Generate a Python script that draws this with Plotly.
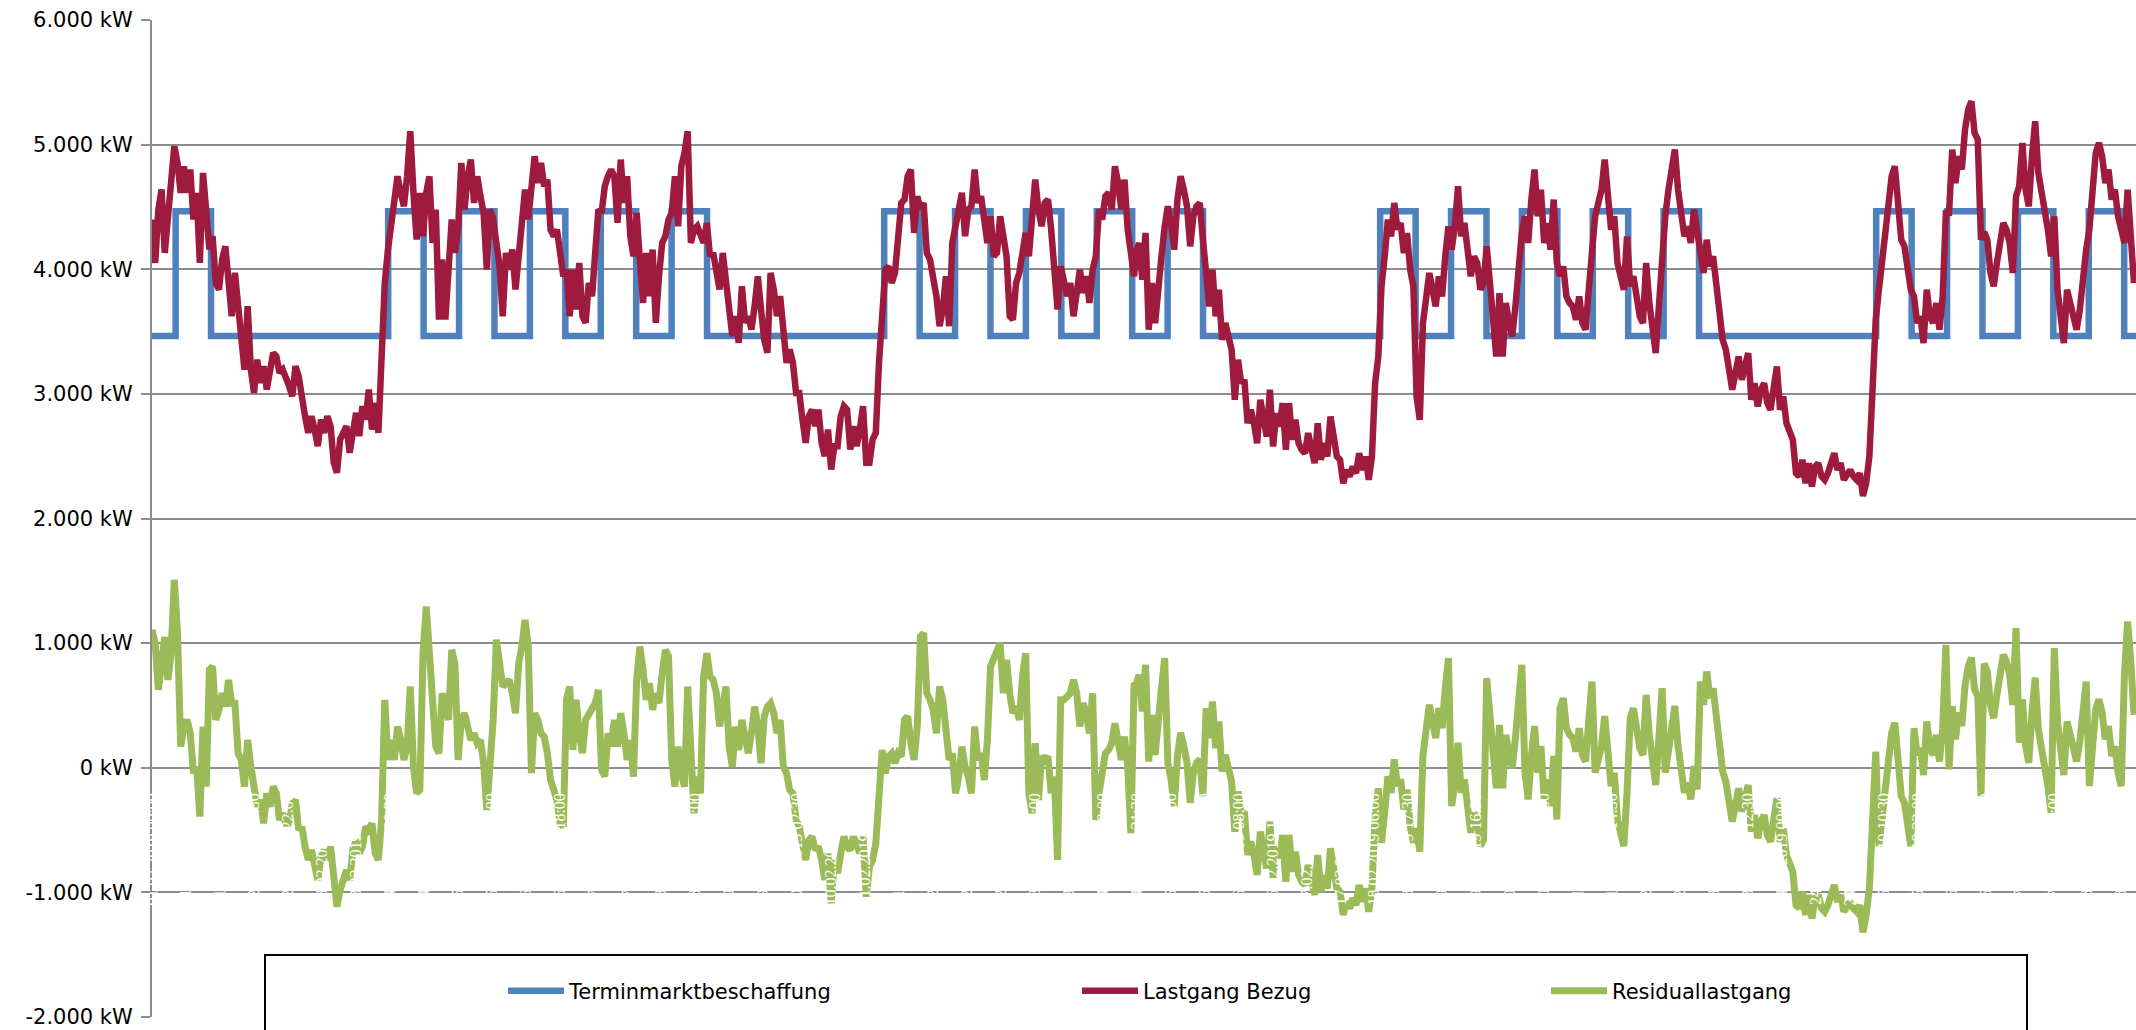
import numpy as np
import pandas as pd
import plotly.graph_objects as go

# ---------------- data ----------------
# Values were read along a regular reading grid of 64.8 minutes,
# part A from 01.02.2019 00:00, part B from 14.02.2019 21:17.
reading_step_min = 64.8
part_a_start = "2019-02-01 00:00"
part_b_start = "2019-02-14 21:17"

lastgang_kw_a = [
    4400, 4051, 4479, 4640, 4131, 4400, 4613, 4987, 4853, 4613,
    4826, 4613, 4800, 4399, 4613, 4051, 4773, 4399, 4158, 4265,
    3890, 3837, 4078, 4185, 3944, 3623, 3971, 3677, 3463, 3195,
    3703, 3195, 3008, 3275, 3088, 3222, 3035, 3169, 3329, 3302,
    3169, 3195, 3142, 3062, 2981, 3222, 3142, 2955, 2821, 2687,
    2821, 2714, 2580, 2794, 2687, 2821, 2741, 2447, 2367, 2634,
    2687, 2741, 2527, 2714, 2848, 2661, 2901, 2794, 3035, 2714,
    2928, 2687, 3249, 3890, 4158, 4345, 4532, 4746, 4613, 4506,
    4746, 5107, 4613, 4238, 4613, 4265, 4613, 4746, 4211, 4479,
    3596, 4078, 3596, 3944, 4399, 4131, 4318, 4853, 4479, 4746,
    4880, 4532, 4746, 4586, 4452, 3997, 4479, 4399, 4211, 4024,
    3623, 4131, 3997, 4158, 3837, 4131, 4318, 4639, 4399, 4613,
    4907, 4693, 4853, 4666, 4719, 4318, 4265, 4318, 4158, 3944,
    3997, 3623, 3997, 3677, 4051, 3623, 3570, 3890, 3784, 4131,
    4479, 4452, 4666, 4746, 4800, 4746, 4372, 4880, 4532, 4746,
    4265, 4104, 4452, 4078, 3730, 4131, 3784, 4158, 3570, 3944,
    4211, 4265, 4399, 4452, 4746, 4345, 4826, 4933, 5107, 4211,
    4318, 4345, 4265, 4211, 4372, 4104, 4131, 3944, 3837, 4131,
    3890, 3677, 3463, 3623, 3409, 3864, 3570, 3623, 3516, 3703,
    3944, 3677, 3436, 3329, 3971, 3837, 3623, 3784, 3436, 3249,
    3356, 3249, 3008, 3008, 2794, 2607, 2821, 2874, 2741, 2874,
    2607, 2500, 2714, 2393, 2580, 2580, 2821, 2901, 2874, 2553,
    2741, 2580, 2714, 2901, 2447, 2447, 2634, 2687, 3249, 3730,
    3997, 4024, 3890, 3971, 4292, 4532, 4559, 4746, 4800, 4292,
    4586, 4479, 4532, 4131, 4078, 3944, 3784, 3543, 3677, 3944,
    3543, 4211, 4318, 4479, 4613, 4265, 4479, 4506, 4800, 4532,
    4586, 4345, 4211, 4425, 4104, 4131, 4425, 4265, 4104, 3623,
    3596, 3890, 3971, 4131, 4292, 4104, 4479, 4719, 4479, 4345,
    4532, 4559, 4318, 3997, 3677, 4024, 3917, 3784, 3890, 3623,
    3810, 3997, 3810, 3944, 3730, 3997, 4104, 4479, 4399, 4586,
    4613, 4479, 4826, 4693, 4479, 4719, 4318, 4158, 3944,
]

lastgang_kw_b = [
    4130, 4211, 3916, 4291, 3515, 3889, 3568, 3782, 4104, 4344,
    4505, 4371, 4157, 4559, 4746, 4639, 4505, 4184, 4425, 4505,
    4532, 4237, 3943, 3702, 3996, 3622, 3836, 3434, 3568, 3461,
    3354, 2952, 3274, 3086, 3113, 2765, 2872, 2765, 2604, 2952,
    2765, 2658, 3033, 2578, 2845, 2738, 2926, 2551, 2926, 2631,
    2792, 2604, 2551, 2524, 2685, 2551, 2444, 2765, 2471, 2604,
    2497, 2818, 2658, 2497, 2471, 2283, 2390, 2337, 2417, 2363,
    2524, 2390, 2497, 2310, 2497, 3086, 3300, 3863, 4104, 4398,
    4264, 4532, 4318, 4371, 4130, 4291, 3996, 3863, 2979, 2792,
    3568, 3729, 3970, 3836, 3702, 3943, 3782, 4104, 4344, 4157,
    4344, 4666, 4264, 4371, 4184, 3943, 4104, 4050, 3836, 3889,
    4184, 3943, 3595, 3300, 3809, 3300, 3729, 3568, 3461, 3702,
    4050, 4291, 4425, 4211, 4559, 4800, 4425, 4639, 4211, 4371,
    4157, 4559, 4050, 3943, 4023, 3782, 3729, 3702, 3595, 3782,
    3568, 3515, 3836, 4157, 4425, 4532, 4639, 4880, 4639, 4318,
    4425, 4050, 3943, 3836, 4264, 3863, 3943, 3782, 3622, 3568,
    4050, 3729, 3568, 3327, 3702, 4104, 4425, 4639, 4800, 4960,
    4639, 4478, 4264, 4344, 4211, 4478, 4291, 4157, 3970, 4237,
    4023, 4104, 3836, 3568, 3434, 3354, 3220, 3033, 3167, 3300,
    3113, 3247, 3327, 2952, 3086, 2899, 3033, 3086, 2926, 2872,
    3033, 3220, 2872, 2979, 2765, 2712, 2631, 2363, 2337, 2471,
    2283, 2444, 2256, 2417, 2444, 2337, 2310, 2363, 2444, 2524,
    2390, 2444, 2310, 2363, 2390, 2337, 2310, 2363, 2180, 2283,
    2497, 3033, 3595, 3836, 4050, 4264, 4478, 4746, 4826, 4559,
    4237, 4184, 3970, 3836, 3782, 3568, 3622, 3407, 3836, 3622,
    3568, 3729, 3515, 3782, 4450, 4452, 4960, 4692, 4907, 4800,
    5121, 5281, 5348, 5094, 5040, 4237, 4300, 4237, 3970, 3863,
    4050, 4264, 4371, 4318, 4211, 3970, 4585, 4666, 5014, 4639,
    4505, 4907, 5188, 4773, 4639, 4478, 4318, 4104, 4425, 3836,
    3622, 3407, 3836, 3729, 3568, 3515, 3675, 3996, 4157, 4318,
    4639, 4933, 5014, 4907, 4692, 4800, 4559, 4639, 4425, 4318,
    4211, 4639, 4318, 3889,
]

residual_kw_a = [
    1107, 1000, 625, 866, 1050, 705, 919, 1508, 1080, 170,
    331, 384, 277, -44, 9, -392, 331, -151, 786, 812,
    384, 464, 598, 491, 705, 518, 518, 116, 63, -151,
    223, 9, -205, -312, -258, -446, -205, -312, -151, -205,
    -419, -365, -446, -446, -285, -258, -499, -473, -633, -740,
    -660, -821, -901, -714, -660, -740, -633, -874, -1115, -981,
    -874, -821, -901, -660, -580, -687, -633, -473, -499, -446,
    -687, -740, -419, 545, 63, 223, 63, 331, 223, 63,
    170, 652, 9, -205, -178, 919, 1294, 919, 598, 170,
    116, 598, 491, 384, 946, 839, 63, 384, 438, 331,
    223, 277, 197, 223, 36, -339, 9, 384, 1027, 812,
    652, 679, 705, 598, 438, 839, 973, 1187, 973, -44,
    438, 384, 277, 250, 116, -98, -205, -258, -446, -473,
    545, 652, 143, 545, 277, 116, 384, 438, 491, 518,
    625, -18, -71, 277, 170, 384, 170, 438, 277, 63,
    223, -71, 705, 973, 786, 545, 679, 464, 598, 518,
    759, 946, 893, 63, -151, 170, -44, -151, 652, 9,
    -365, -71, -205, 732, 919, 732, 705, 598, 331, 491,
    652, 170, 9, 331, 143, 384, 223, 116, 277, 491,
    331, 36, 411, 491, 518, 438, 277, 384, 9, -44,
    -178, -205, -419, -473, -606, -740, -580, -553, -660, -633,
    -740, -901, -687, -1088, -740, -847, -687, -553, -633, -660,
    -553, -633, -687, -553, -1035, -794, -740, -606, -205, 143,
    -44, 90, 116, 36, 116, 90, 384, 411, 197, 63,
    331, 1053, 1080, 598, 545, 464, 277, 652, 545, 277,
    63, 116, -205, -71, 170, 9, -71, -205, 331, 63,
    116, -98, 223, 812, 866, 919, 1000, 598, 866, 598,
    438, 491, 384, 732, 919, -205, -365, 197, -258, 90,
    63, 90, -205, -71, -740, 545, 545, 571, 598, 705,
    598, 331, 518, 438, 277, 598, -419, -205, -71, 116,
    143, 197, 357, 170, 63, 250, 9, -526, 679,
]

residual_kw_b = [
    665, 746, 451, 826, 50, 424, 103, 317, 639, 879,
    40, -94, -308, 94, 281, 174, 40, -281, -40, 40,
    67, -228, 478, 237, 531, 157, 371, -31, 103, -4,
    -111, -513, -191, -379, -352, -700, -593, -700, -861, -513,
    -700, -807, -432, -887, -620, -727, -539, -914, -539, -834,
    -673, -861, -914, -941, -780, -914, -1021, -700, -994, -861,
    -968, -647, -807, -968, -994, -1182, -1075, -1128, -1048, -1102,
    -941, -1075, -968, -1155, -968, -379, -165, -602, -361, -67,
    -201, 67, -147, -94, -335, -174, -469, -602, -486, -673,
    103, 264, 505, 371, 237, 478, 317, 639, 879, -308,
    -121, 201, -201, -94, -281, -522, -361, -415, -629, -576,
    719, 478, 130, -165, 344, -165, 264, 103, -4, 237,
    585, 826, -40, -254, 94, 335, -40, 174, -254, -94,
    -308, 94, -415, 478, 558, 317, 264, 237, 130, 317,
    103, 50, 371, 692, -40, 67, 174, 415, 174, -147,
    -40, -415, -522, -629, -201, 398, 478, 317, 157, 103,
    585, 264, 103, -138, 237, 639, -40, 174, 335, 495,
    174, 13, -201, -121, -254, 13, -174, 692, 505, 772,
    558, 639, 371, 103, -31, -111, -245, -432, -298, -165,
    -352, -218, -138, -513, -379, -566, -432, -379, -539, -593,
    -432, -245, -593, -486, -700, -753, -834, -1102, -1128, -994,
    -1182, -1021, -1209, -1048, -1021, -1128, -1155, -1102, -1021, -941,
    -1075, -1021, -1155, -1102, -1075, -1128, -1155, -1102, -1320, -1182,
    -968, -432, 130, -629, -415, -201, 13, 281, 361, 94,
    -228, -281, -495, -629, 317, 103, 157, -58, 371, 157,
    103, 264, 50, 317, 985, -13, 495, 227, 442, 335,
    656, 816, 883, 629, 575, -228, 835, 772, 505, 398,
    585, 799, 906, 853, 746, 505, 1120, 201, 549, 174,
    40, 442, 723, 308, 174, 13, -147, -361, 960, 371,
    157, -58, 371, 264, 103, 50, 210, 531, 692, -147,
    174, 468, 549, 442, 227, 335, 94, 174, -40, -147,
    746, 1174, 853, 424,
]

# Terminmarktbeschaffung: step profile (change points)
termin_times = [
    "2019-02-01 00:00", "2019-02-01 08:00", "2019-02-01 20:00",
    "2019-02-04 08:00", "2019-02-04 20:00", "2019-02-05 08:00", "2019-02-05 20:00",
    "2019-02-06 08:00", "2019-02-06 20:00", "2019-02-07 08:00", "2019-02-07 20:00",
    "2019-02-08 08:00", "2019-02-08 20:00",
    "2019-02-11 08:00", "2019-02-11 20:00", "2019-02-12 08:00", "2019-02-12 20:00",
    "2019-02-13 08:00", "2019-02-13 20:00", "2019-02-14 08:00", "2019-02-14 20:00",
    "2019-02-15 08:00", "2019-02-15 20:00",
    "2019-02-18 08:00", "2019-02-18 20:00", "2019-02-19 08:00", "2019-02-19 20:00",
    "2019-02-20 08:00", "2019-02-20 20:00", "2019-02-21 08:00", "2019-02-21 20:00",
    "2019-02-22 08:00", "2019-02-22 20:00",
    "2019-02-25 08:00", "2019-02-25 20:00", "2019-02-26 08:00", "2019-02-26 20:00",
    "2019-02-27 08:00", "2019-02-27 20:00", "2019-02-28 08:00", "2019-02-28 20:00",
    "2019-03-01 00:00",
]
termin_kw = [3465] + [4465, 3465] * 20 + [3465]

series_names = ["Terminmarktbeschaffung", "Lastgang Bezug", "Residuallastgang"]
series_colors = ["#4F81BD", "#9E1B3E", "#9BBB59"]

y_tickvals = [-2000, -1000, 0, 1000, 2000, 3000, 4000, 5000, 6000]
y_ticktext = ["-2.000 kW", "-1.000 kW", "0 kW", "1.000 kW", "2.000 kW",
              "3.000 kW", "4.000 kW", "5.000 kW", "6.000 kW"]

t_start, t_end = "2019-02-01 00:00", "2019-03-01 00:00"
label_times = pd.date_range(t_start, t_end, freq="690min")
label_text = [t.strftime("%d.%m.%Y %H:%M") for t in label_times]


def reading_times(start, n):
    return pd.Timestamp(start) + pd.to_timedelta(np.arange(n) * reading_step_min, unit="min")


times = reading_times(part_a_start, len(lastgang_kw_a)).append(
    reading_times(part_b_start, len(lastgang_kw_b)))
lastgang_kw = lastgang_kw_a + lastgang_kw_b
residual_kw = residual_kw_a + residual_kw_b

# ---------------- figure ----------------
fig = go.Figure()
fig.add_trace(go.Scatter(x=termin_times, y=termin_kw, mode="lines", line_shape="hv",
                         name=series_names[0], line=dict(color=series_colors[0], width=6.5),
                         legend="legend"))
fig.add_trace(go.Scatter(x=times, y=lastgang_kw, mode="lines",
                         name=series_names[1], line=dict(color=series_colors[1], width=6.5),
                         legend="legend2"))
fig.add_trace(go.Scatter(x=times, y=residual_kw, mode="lines",
                         name=series_names[2], line=dict(color=series_colors[2], width=7),
                         legend="legend3"))

W, H = 2136, 1030
L, R, T, B = 152, 0, 20, 13
pw, ph = W - L - R, H - T - B


def px_x(px):
    return (px - L) / pw


def px_y(py):
    return (H - B - py) / ph


leg_common = dict(orientation="h", xanchor="left", yanchor="middle",
                  y=px_y(991), bgcolor="rgba(0,0,0,0)", borderwidth=0,
                  font=dict(family="DejaVu Sans", size=21, color="black"),
                  itemwidth=56)

fig.update_layout(
    width=W, height=H, autosize=False,
    margin=dict(l=L, r=R, t=T, b=B, pad=0),
    plot_bgcolor="white", paper_bgcolor="white",
    font=dict(family="DejaVu Sans", size=21, color="black"),
    showlegend=True,
    legend=dict(leg_common, x=px_x(503)),
    legend2=dict(leg_common, x=px_x(1077)),
    legend3=dict(leg_common, x=px_x(1546)),
    xaxis=dict(type="date", range=[t_start, t_end], anchor="free", position=0.25,
               tickvals=list(label_times), ticktext=label_text, tickangle=-90,
               tickfont=dict(family="Liberation Serif", size=16, color="white"),
               ticks="outside", ticklen=18, tickcolor="rgba(0,0,0,0)",
               showgrid=False, showline=False, zeroline=False),
    yaxis=dict(range=[-2000, 6000], tickvals=y_tickvals, ticktext=y_ticktext,
               tickfont=dict(family="DejaVu Sans", size=21, color="black"),
               showgrid=True, gridcolor="#8c8c8c", gridwidth=2,
               showline=True, linecolor="#8c8c8c", linewidth=2,
               ticks="outside", ticklen=9, tickwidth=2, tickcolor="#8c8c8c",
               zeroline=False, ticklabelstandoff=4),
    shapes=[dict(type="rect", xref="paper", yref="paper",
                 x0=px_x(265), x1=px_x(2027), y0=-0.3, y1=px_y(955),
                 line=dict(color="black", width=2), fillcolor="white", layer="above")],
)

fig.write_html("out.html", config={"displayModeBar": False},
               post_script="document.body.style.margin='0';document.body.style.overflow='hidden';")
